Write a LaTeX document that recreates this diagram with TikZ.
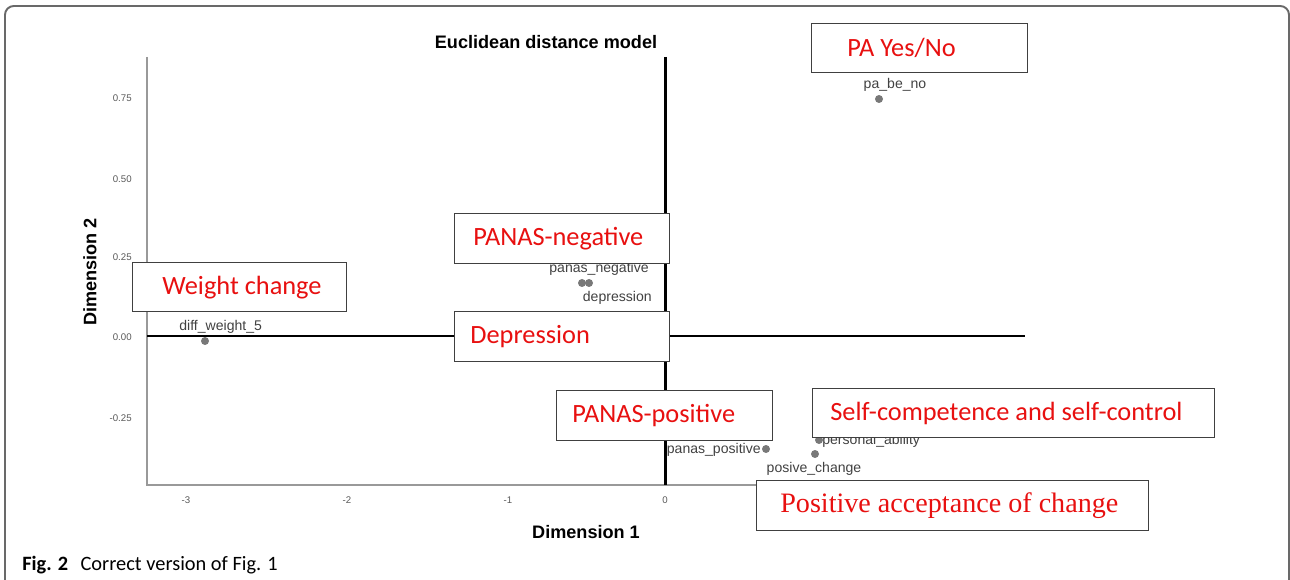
\documentclass[tikz,border=0pt]{standalone}
\usepackage{fontspec}
\setmainfont{Liberation Sans}
\newfontfamily\arialf{Liberation Sans}
\newfontfamily\calibf{Carlito}
\newfontfamily\timesf{Liberation Serif}
\definecolor{tagred}{RGB}{232,16,16}
\definecolor{dotgray}{RGB}{120,120,120}
\definecolor{labgray}{RGB}{65,65,65}
\definecolor{framegray}{RGB}{105,105,105}
\begin{document}
\begin{tikzpicture}[x=0.02cm, y=-0.02cm,
    tagbox/.style={draw=black!75, line width=0.8pt, fill=white, anchor=north west, inner sep=0pt},
    tagtext/.style={text=tagred, inner sep=0pt, anchor=west, font=\calibf\fontsize{15}{18}\selectfont},
    mdsdot/.style={circle, fill=dotgray, inner sep=0pt, minimum size=0.16cm},
    varlab/.style={text=labgray, inner sep=0pt, font=\arialf\fontsize{8}{9}\selectfont},
    ticklab/.style={text=black!65, inner sep=0pt, font=\arialf\fontsize{5.5}{6}\selectfont},
    axtitle/.style={inner sep=0pt, font=\arialf\bfseries\fontsize{10.3}{12}\selectfont},
    thinaxis/.style={draw=black!40, line width=0.6pt},
    thickaxis/.style={draw=black, line width=1.7pt}]
    %\draw [help lines] (0,0) grid[step=50] (1290,580);
    \useasboundingbox (0,0) rectangle (1290,580);
    \clip (0,0) rectangle (1290,580);
    \draw[framegray, line width=1.1pt, rounded corners=5pt] (5,6) rectangle (1289,600);

    \node[axtitle] (title) at (546,42.5) {Euclidean distance model};
    \node[axtitle] (dim1) at (586,532) {Dimension 1};
    \node[axtitle, rotate=90] (dim2) at (90,272) {Dimension 2};

    \coordinate (ytop) at (147,57);
    \coordinate (orig) at (147,485);
    \coordinate (xend) at (1025,485);
    \coordinate (vtop) at (665,57);
    \coordinate (vbot) at (665,485);
    \coordinate (hleft) at (147,336);
    \coordinate (hright) at (1025,336);

    \draw[thinaxis] (ytop) -- (orig) -- (xend);
    \draw[thickaxis] (vtop) -- (vbot);
    \draw[thickaxis] (hleft) -- (hright);

    \node[ticklab, anchor=east] (y075) at (132,98) {0.75};
    \node[ticklab, anchor=east] (y050) at (132,179) {0.50};
    \node[ticklab, anchor=east] (y025) at (132,257) {0.25};
    \node[ticklab, anchor=east] (y000) at (132,337) {0.00};
    \node[ticklab, anchor=east] (y-025) at (132,418) {-0.25};

    \node[ticklab] (x-3) at (186,500) {-3};
    \node[ticklab] (x-2) at (347,500) {-2};
    \node[ticklab] (x-1) at (508,500) {-1};
    \node[ticklab] (x0) at (665,500) {0};

    \node[mdsdot] (pa_be_no) at (879,99) {};
    \node[varlab] (pa_be_no lab) at (895,85) {pa\_be\_no};

    \node[mdsdot] (panas_neg) at (582,283) {};
    \node[mdsdot] (depr) at (589,283) {};
    \node[varlab, anchor=east] (panas_neg lab) at (649,269) {panas\_negative};
    \node[varlab, anchor=east] (depr lab) at (652,298) {depression};

    \node[mdsdot] (diff_w) at (205,341) {};
    \node[varlab, anchor=west] (diff_w lab) at (179,327) {diff\_weight\_5};

    \node[mdsdot] (panas_pos) at (766,449) {};
    \node[varlab, anchor=east] (panas_pos lab) at (761,450) {panas\_positive};

    \node[mdsdot] (pers_ab) at (819,440) {};
    \node[varlab, anchor=west] (pers_ab lab) at (822,441) {personal\_ability};

    \node[mdsdot] (pos_ch) at (815,454) {};
    \node[varlab] (pos_ch lab) at (814,469) {posive\_change};

    \node[tagbox, minimum width=4.32cm, minimum height=0.98cm,
      label={[tagtext, xshift=0.72cm]west:PA Yes/No}] (pa box) at (811,23) {};
    \node[tagbox, minimum width=4.30cm, minimum height=1.0cm,
      label={[tagtext, xshift=0.38cm]west:PANAS-negative}] (neg box) at (454,213) {};
    \node[tagbox, minimum width=4.28cm, minimum height=0.98cm,
      label={[tagtext, xshift=0.6cm]west:Weight change}] (weight box) at (132,262) {};
    \node[tagbox, minimum width=4.30cm, minimum height=1.0cm,
      label={[tagtext, xshift=0.32cm]west:Depression}] (depr box) at (454,311) {};
    \node[tagbox, minimum width=4.32cm, minimum height=1.0cm,
      label={[tagtext, xshift=0.32cm]west:PANAS-positive}] (pos box) at (556,390) {};
    \node[tagbox, minimum width=8.04cm, minimum height=0.98cm,
      label={[tagtext, xshift=0.36cm]west:Self-competence and self-control}] (self box) at (812,388) {};
    \node[tagbox, minimum width=7.84cm, minimum height=1.0cm,
      label={[tagtext, xshift=0.48cm, font=\timesf\fontsize{16}{19}\selectfont]west:Positive acceptance of change}] (change box) at (756,480) {};

    \node[anchor=base west, inner sep=0pt, font=\calibf\fontsize{11.6}{13}\selectfont] (caption) at (22,570)
      {\textbf{Fig. 2}\hspace{7pt}Correct version of Fig. 1};
\end{tikzpicture}
\end{document}
